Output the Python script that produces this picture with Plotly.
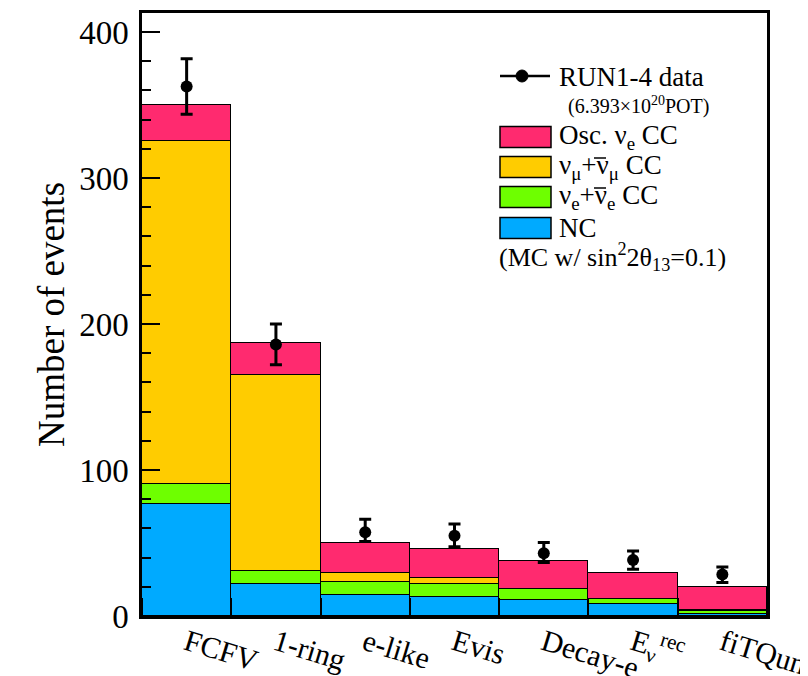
import plotly.graph_objects as go

categories = ["FCFV", "1-ring", "e-like", "Evis", "Decay-e", "E<sub>ν</sub><sup>rec</sup>", "fiTQun"]
nc = [77.0, 21.7, 14.4, 12.8, 10.8, 8.0, 1.5]
nue_bg = [13.6, 9.3, 8.9, 8.9, 7.5, 3.7, 2.2]
numu = [234.5, 134.0, 6.0, 4.3, 0.4, 0.2, 0.1]
osc_nue = [25.0, 22.0, 21.0, 19.8, 19.0, 17.6, 16.3]
data = [362.7, 186.0, 57.4, 55.0, 43.0, 38.4, 28.4]
err_up = [19.0, 14.0, 8.9, 8.0, 7.3, 6.2, 5.1]
err_dn = [19.0, 14.0, 6.4, 7.5, 6.4, 6.4, 5.5]

FONT = "Liberation Serif"
OFF = 8  # page body margin
W, H = 808 - OFF, 676 - OFF
L, R, T, B = 142 - OFF, 767 - OFF, 13 - OFF, 616 - OFF

xc = [i + 0.5 for i in range(len(categories))]

fig = go.Figure()
for vals, col in [(nc, "#00aaff"), (nue_bg, "#6eff00"), (numu, "#ffcc00"), (osc_nue, "#ff2a6f")]:
    fig.add_trace(go.Bar(x=xc, y=vals, width=1.0, marker=dict(color=col, line=dict(color="black", width=1.5)),
                         showlegend=False))

fig.add_trace(go.Scatter(x=xc, y=data, mode="markers", showlegend=False,
                         marker=dict(color="black", size=12),
                         error_y=dict(type="data", symmetric=False, array=err_up, arrayminus=err_dn,
                                      color="black", thickness=3, width=6)))

# helpers: reference-page pixel -> paper coords
def px(x):
    return (x - OFF - L) / (R - L)

def py(y):
    return (B - (y - OFF)) / (B - T)

shapes = []
annots = []
shapes.append(dict(type="line", xref="paper", yref="paper", x0=px(500), x1=px(550), y0=py(76), y1=py(76),
                   line=dict(color="black", width=2.5)))
shapes.append(dict(type="circle", xref="paper", yref="paper", x0=px(516), x1=px(528), y0=py(70), y1=py(82),
                   fillcolor="black", line=dict(color="black", width=1)))
annots.append(dict(x=px(557), y=py(77), xref="paper", yref="paper", text="RUN1-4 data", showarrow=False,
                   xanchor="left", yanchor="middle", font=dict(size=27, family=FONT, color="black")))
annots.append(dict(x=px(566), y=py(106), xref="paper", yref="paper", text="(6.393×10<sup>20</sup>POT)",
                   showarrow=False, xanchor="left", yanchor="middle", font=dict(size=20, family=FONT, color="black")))

entries = [("#ff2a6f", "Osc. ν<sub>e</sub> CC", 137, False),
           ("#ffcc00", "ν<sub>μ</sub>+ν<sub>μ</sub> CC", 167, True),
           ("#6eff00", "ν<sub>e</sub>+ν<sub>e</sub> CC", 197, True),
           ("#00aaff", "NC", 228, False)]
for col, txt, yc, bar in entries:
    shapes.append(dict(type="rect", xref="paper", yref="paper", x0=px(500), x1=px(551), y0=py(yc - 10.5),
                       y1=py(yc + 10.5), fillcolor=col, line=dict(color="black", width=1.5)))
    annots.append(dict(x=px(557), y=py(yc), xref="paper", yref="paper", text=txt, showarrow=False,
                       xanchor="left", yanchor="middle", font=dict(size=27, family=FONT, color="black")))
    if bar:
        shapes.append(dict(type="line", xref="paper", yref="paper", x0=px(594), x1=px(606),
                           y0=py(yc - 9), y1=py(yc - 9), line=dict(color="black", width=1.5)))
annots.append(dict(x=px(497), y=py(257), xref="paper", yref="paper", text="(MC w/ sin<sup>2</sup>2θ<sub>13</sub>=0.1)",
                   showarrow=False, xanchor="left", yanchor="middle", font=dict(size=26, family=FONT, color="black")))

fig.update_layout(
    width=W, height=H, barmode="stack", bargap=0,
    margin=dict(l=L, r=W - R, t=T, b=H - B),
    paper_bgcolor="white", plot_bgcolor="white",
    font=dict(family=FONT, color="black"),
    shapes=shapes, annotations=annots,
    xaxis=dict(range=[0, 7], showline=True, mirror=True, linecolor="black", linewidth=2.5,
               tickmode="array", tickvals=xc, ticktext=categories, ticks="", tickangle=17,
               tickfont=dict(size=30, family=FONT), showgrid=False, zeroline=False,
               automargin=False, ticklabeloverflow="allow", ticklabelstandoff=-5,
               minor=dict(tickmode="array", tickvals=list(range(8)), ticks="inside", ticklen=18,
                          tickcolor="black", tickwidth=2, showgrid=False)),
    yaxis=dict(range=[0, 413], showline=True, mirror=True, linecolor="black", linewidth=2.5,
               tickmode="array", tickvals=[0, 100, 200, 300, 400], ticks="inside", ticklen=18,
               tickwidth=2, tickcolor="black", tickfont=dict(size=33, family=FONT),
               showgrid=False, zeroline=False, ticklabelstandoff=4, automargin=False,
               minor=dict(dtick=20, ticks="inside", ticklen=9, tickcolor="black", tickwidth=2, showgrid=False),
               title=dict(text="Number of events", font=dict(size=37, family=FONT), standoff=4)),
)

fig.write_html("out.html")
